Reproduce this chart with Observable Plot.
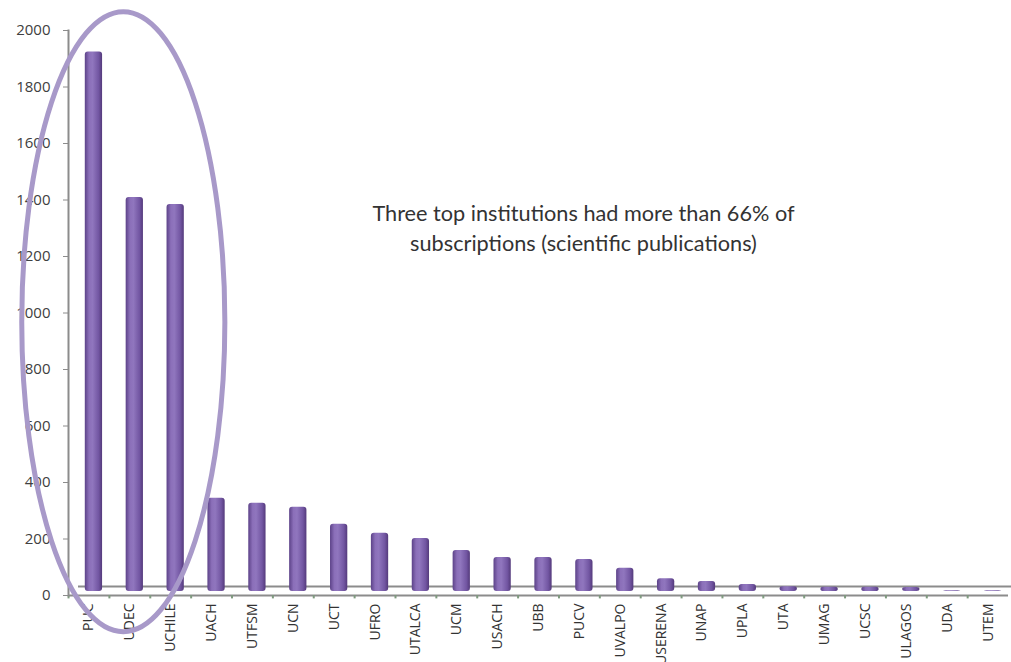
<!DOCTYPE html>
<html>
<head>
<meta charset="utf-8">
<script src="https://cdn.jsdelivr.net/npm/d3@7"></script>
<script src="https://cdn.jsdelivr.net/npm/@observablehq/plot@0.6"></script>
<style>
  html, body { margin: 0; padding: 0; background: #fff; }
  #chart { width: 1011px; height: 662px; overflow: hidden; }
</style>
</head>
<body>
<div id="chart"></div>
<script>
// ---- data ----
const institutions = ["PUC","UDEC","UCHILE","UACH","UTFSM","UCN","UCT","UFRO","UTALCA","UCM","USACH","UBB","PUCV","UVALPO","USERENA","UNAP","UPLA","UTA","UMAG","UCSC","ULAGOS","UDA","UTEM"];
const subscriptions = [1910,1395,1370,330,312,298,238,206,188,145,120,120,113,82,45,35,25,17,15,15,14,3,3];
const yTicks = [0,200,400,600,800,1000,1200,1400,1600,1800,2000];
const annotationLines = ["Three top institutions had more than 66% of", "subscriptions (scientific publications)"];
const highlighted = ["PUC","UDEC","UCHILE"];
const highlightValueRange = [-130, 2065];

const data = institutions.map((name, i) => ({name, value: subscriptions[i]}));

const axisFont = "'Open Sans', 'Liberation Sans', sans-serif";

const plot = Plot.plot({
  width: 1011,
  height: 662,
  marginLeft: 68,
  marginRight: 3,
  marginTop: 30,
  marginBottom: 67,
  style: {background: "#fff", overflow: "visible"},
  x: {domain: institutions, padding: 0, round: false, label: null},
  y: {domain: [0, 2000], label: null},
  marks: [
    // floor (3D base) back edge and front edge
    Plot.ruleY([0], {dy: -9, dx: 10, stroke: "#8c8c8c", strokeWidth: 2}),
    Plot.ruleY([0], {stroke: "#8c8c8c", strokeWidth: 2}),
    Plot.ruleX(institutions, {x: d => d, dx: -20.4, y1: 0, y2: -12, stroke: "#7f9a7f", strokeWidth: 2}),
    Plot.frame({anchor: "left", stroke: "#8c8c8c", strokeWidth: 2}),
    Plot.axisY({ticks: yTicks, tickSize: 5, tickPadding: 13, fontSize: 15, fontFamily: axisFont, color: "#404040", stroke: "#8c8c8c", label: null, tickFormat: d => String(d)}),
    Plot.axisX({tickRotate: -90, tickSize: 0, tickPadding: 8, fontSize: 14, fontFamily: axisFont, color: "#333", label: null}),
    Plot.barY(data, {x: "name", y: "value", fill: "url(#cyl)", insetLeft: 11.8, insetRight: 11.8, dx: 5, dy: -4, rx: 3}),
    Plot.text([annotationLines.join("\n")], {
      text: d => d, frameAnchor: "top", dx: 45, dy: 169, lineHeight: 1.4,
      fontSize: 21.7, fontFamily: "Lato, 'Noto Sans', sans-serif", fill: "#333"
    })
  ]
});

// cylinder shading gradient
const svg = d3.select(plot);
const defs = svg.insert("defs", ":first-child");
const g = defs.append("linearGradient").attr("id", "cyl").attr("x1", "0").attr("x2", "1").attr("y1", "0").attr("y2", "0");
[[0, "#5c4288"], [0.25, "#8b6fb9"], [0.45, "#9076be"], [0.8, "#7256a2"], [1, "#543a7b"]]
  .forEach(([o, c]) => g.append("stop").attr("offset", o).attr("stop-color", c));

// highlight ellipse around the top three institutions, positioned with the plot's scales
const xs = plot.scale("x"), ys = plot.scale("y");
const first = xs.apply(highlighted[0]), last = xs.apply(highlighted[highlighted.length - 1]) + xs.bandwidth;
const step = xs.step;
const cx = (first + last) / 2 - 6;
const rx = (last - first) / 2 + step * 0.985;
const yTop = ys.apply(highlightValueRange[1]), yBot = ys.apply(highlightValueRange[0]);
svg.append("ellipse")
  .attr("cx", cx).attr("cy", (yTop + yBot) / 2)
  .attr("rx", rx).attr("ry", (yBot - yTop) / 2)
  .attr("fill", "none").attr("stroke", "#a899c9").attr("stroke-width", 5);

document.getElementById("chart").appendChild(plot);
</script>
</body>
</html>
